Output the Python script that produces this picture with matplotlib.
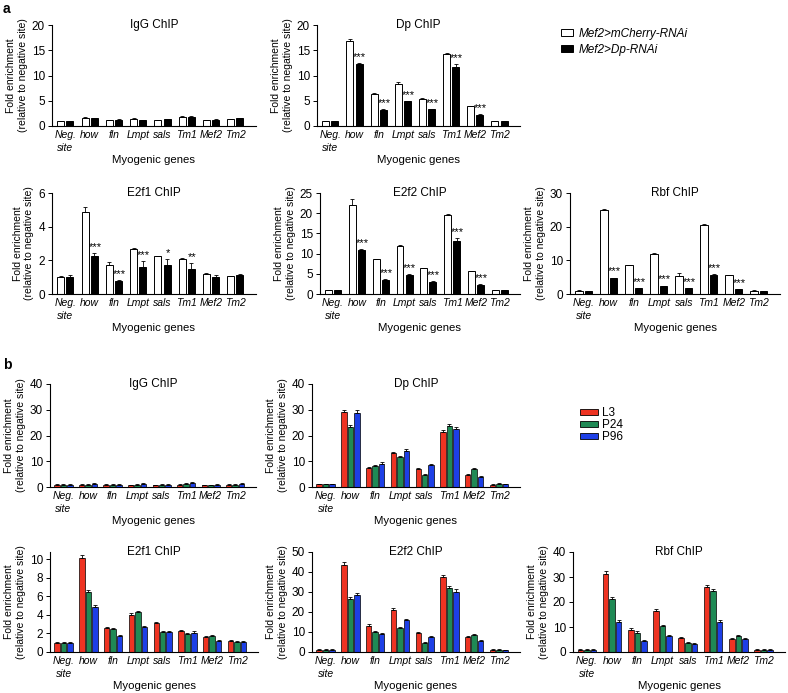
import numpy as np
import matplotlib.pyplot as plt
from matplotlib.patches import Patch

plt.rcParams['font.family'] = ['Liberation Sans', 'DejaVu Sans']
plt.rcParams['font.size'] = 7.5

W, H = 788, 693

genes = ['Neg.\nsite', 'how', 'fln', 'Lmpt', 'sals', 'Tm1', 'Mef2', 'Tm2']

# ---- panel a: Mef2>mCherry-RNAi (white) vs Mef2>Dp-RNAi (black)
a_igg_ctrl = [1.0, 1.6, 1.1, 1.4, 1.2, 1.7, 1.2, 1.3]
a_igg_ctrl_err = [0.05, 0.1, 0.05, 0.15, 0.05, 0.3, 0.05, 0.1]
a_igg_dp = [1.0, 1.5, 1.2, 1.1, 1.3, 1.7, 1.2, 1.5]
a_igg_dp_err = [0.05, 0.1, 0.1, 0.1, 0.05, 0.35, 0.1, 0.1]
a_igg_stars = ['', '', '', '', '', '', '', '']

a_dp_ctrl = [1.0, 16.8, 6.4, 8.4, 5.3, 14.3, 3.9, 0.9]
a_dp_ctrl_err = [0.05, 0.4, 0.2, 0.25, 0.3, 0.1, 0.05, 0.05]
a_dp_dp = [1.0, 12.2, 3.2, 4.9, 3.3, 11.7, 2.2, 0.9]
a_dp_dp_err = [0.05, 0.2, 0.1, 0.05, 0.1, 0.5, 0.1, 0.05]
a_dp_stars = ['', '***', '***', '***', '***', '***', '***', '']

a_e2f1_ctrl = [1.0, 4.9, 1.75, 2.7, 2.25, 2.1, 1.2, 1.05]
a_e2f1_ctrl_err = [0.05, 0.25, 0.15, 0.02, 0.02, 0.05, 0.05, 0.03]
a_e2f1_dp = [1.0, 2.25, 0.8, 1.6, 1.7, 1.5, 1.0, 1.15]
a_e2f1_dp_err = [0.15, 0.2, 0.05, 0.35, 0.35, 0.35, 0.1, 0.03]
a_e2f1_stars = ['', '***', '***', '***', '*', '**', '', '']

a_e2f2_ctrl = [1.0, 22.0, 8.6, 12.0, 6.4, 19.6, 5.6, 1.0]
a_e2f2_ctrl_err = [0.1, 1.5, 0.1, 0.15, 0.1, 0.15, 0.1, 0.05]
a_e2f2_dp = [1.0, 11.0, 3.5, 4.8, 3.0, 13.1, 2.3, 1.0]
a_e2f2_dp_err = [0.05, 0.2, 0.1, 0.2, 0.2, 0.8, 0.1, 0.05]
a_e2f2_stars = ['', '***', '***', '***', '***', '***', '***', '']

a_rbf_ctrl = [1.0, 25.0, 8.5, 12.0, 5.3, 20.5, 5.6, 1.0]
a_rbf_ctrl_err = [0.05, 0.2, 0.1, 0.2, 0.8, 0.2, 0.1, 0.05]
a_rbf_dp = [0.9, 4.7, 1.8, 2.4, 1.7, 5.6, 1.4, 0.8]
a_rbf_dp_err = [0.05, 0.2, 0.1, 0.1, 0.2, 0.2, 0.1, 0.05]
a_rbf_stars = ['', '***', '***', '***', '***', '***', '***', '']

# ---- panel b: L3 / P24 / P96
b_igg_l3 = [0.9, 0.9, 0.8, 0.7, 0.6, 0.9, 0.6, 0.9]
b_igg_p24 = [0.8, 0.9, 0.8, 0.8, 0.8, 1.1, 0.7, 0.8]
b_igg_p96 = [0.8, 1.3, 0.8, 1.1, 0.9, 1.5, 0.9, 1.1]

b_dp_l3 = [1.0, 29.0, 7.5, 13.2, 6.8, 21.5, 4.7, 0.8]
b_dp_p24 = [1.0, 23.3, 8.2, 11.6, 4.8, 23.8, 6.9, 1.2]
b_dp_p96 = [1.0, 28.8, 9.1, 14.0, 8.5, 22.6, 3.8, 1.0]

b_e2f1_l3 = [1.0, 10.2, 2.6, 4.0, 3.15, 2.25, 1.6, 1.2]
b_e2f1_p24 = [1.0, 6.5, 2.5, 4.3, 2.2, 1.9, 1.75, 1.1]
b_e2f1_p96 = [1.0, 4.9, 1.7, 2.65, 2.2, 2.1, 1.2, 1.05]

b_e2f2_l3 = [1.0, 43.5, 13.2, 21.0, 9.7, 37.5, 7.4, 1.0]
b_e2f2_p24 = [1.0, 26.7, 9.9, 12.1, 4.6, 32.0, 8.5, 1.0]
b_e2f2_p96 = [1.0, 28.5, 8.8, 16.0, 7.7, 30.2, 5.5, 0.8]

b_rbf_l3 = [1.0, 31.2, 9.0, 16.5, 5.8, 26.0, 5.3, 0.9]
b_rbf_p24 = [0.9, 21.4, 7.8, 10.4, 3.5, 24.5, 6.5, 1.0]
b_rbf_p96 = [1.0, 12.2, 4.3, 6.5, 3.2, 12.1, 5.4, 0.9]

red, green, blue = '#ee3322', '#1f8a55', '#1d3fe6'

fig = plt.figure(figsize=(W / 100, H / 100), dpi=100)


def make_ax(left, top, right, bottom):
    return fig.add_axes([left / W, 1 - bottom / H, (right - left) / W, (bottom - top) / H])


def style(ax, title, ymax, yticks):
    x = np.arange(len(genes))
    ax.set_xlim(-0.55, 7.85)
    ax.set_ylim(0, ymax)
    ax.set_yticks(yticks)
    ax.set_xticks(x)
    ax.set_xticklabels(genes, style='italic', linespacing=1.3)
    ax.tick_params(axis='x', length=0, pad=3)
    ax.tick_params(axis='y', length=3, width=0.7, pad=2, labelsize=8.5)
    for s in ['top', 'right']:
        ax.spines[s].set_visible(False)
    for s in ['left', 'bottom']:
        ax.spines[s].set_linewidth(0.8)
    ax.set_xlabel('Myogenic genes', fontsize=8.2, labelpad=2)
    ax.set_ylabel('Fold enrichment\n(relative to negative site)', fontsize=7.5, labelpad=3, linespacing=1.15)
    ax.text(0.5, 1.0, title, transform=ax.transAxes, ha='center', va='center', fontsize=8.5)


def panel_a(ax, title, ctrl, ctrl_err, dp, dp_err, stars, ymax, yticks):
    x = np.arange(len(genes))
    w = 0.29
    ekw = dict(elinewidth=0.6, capthick=0.6)
    ax.bar(x - 0.19, ctrl, w, color='white', edgecolor='black', linewidth=0.7,
           yerr=[np.zeros(len(ctrl)), ctrl_err], capsize=1.5, error_kw=ekw)
    ax.bar(x + 0.19, dp, w, color='black', edgecolor='black', linewidth=0.7,
           yerr=[np.zeros(len(dp)), dp_err], capsize=1.5, error_kw=ekw)
    for i, s in enumerate(stars):
        if s:
            ax.text(x[i] + 0.22, dp[i] + dp_err[i] + ymax * 0.01, s, ha='center', va='bottom', fontsize=8)
    style(ax, title, ymax, yticks)


def panel_b(ax, title, l3, p24, p96, ymax, yticks):
    x = np.arange(len(genes))
    w = 0.22
    ekw = dict(elinewidth=0.6, capthick=0.6)
    for off, vals, c in [(-0.26, l3, red), (0.0, p24, green), (0.26, p96, blue)]:
        err = [v * 0.025 + ymax * 0.006 for v in vals]
        ax.bar(x + off, vals, w, color=c, edgecolor='black', linewidth=0.5,
               yerr=[np.zeros(len(vals)), err], capsize=1.2, error_kw=ekw)
    style(ax, title, ymax, yticks)


# panel a
ax = make_ax(52, 25, 256, 126)
panel_a(ax, 'IgG ChIP', a_igg_ctrl, a_igg_ctrl_err, a_igg_dp, a_igg_dp_err, a_igg_stars, 20, [0, 5, 10, 15, 20])
ax = make_ax(317, 25, 520, 126)
panel_a(ax, 'Dp ChIP', a_dp_ctrl, a_dp_ctrl_err, a_dp_dp, a_dp_dp_err, a_dp_stars, 20, [0, 5, 10, 15, 20])
ax = make_ax(52, 193, 256, 294)
panel_a(ax, 'E2f1 ChIP', a_e2f1_ctrl, a_e2f1_ctrl_err, a_e2f1_dp, a_e2f1_dp_err, a_e2f1_stars, 6, [0, 2, 4, 6])
ax = make_ax(320, 193, 520, 294)
panel_a(ax, 'E2f2 ChIP', a_e2f2_ctrl, a_e2f2_ctrl_err, a_e2f2_dp, a_e2f2_dp_err, a_e2f2_stars, 25, [0, 5, 10, 15, 20, 25])
ax = make_ax(570, 193, 780, 294)
panel_a(ax, 'Rbf ChIP', a_rbf_ctrl, a_rbf_ctrl_err, a_rbf_dp, a_rbf_dp_err, a_rbf_stars, 30, [0, 10, 20, 30])

# panel b
ax = make_ax(50, 384, 256, 487)
panel_b(ax, 'IgG ChIP', b_igg_l3, b_igg_p24, b_igg_p96, 40, [0, 10, 20, 30, 40])
ax = make_ax(312, 384, 520, 487)
panel_b(ax, 'Dp ChIP', b_dp_l3, b_dp_p24, b_dp_p96, 40, [0, 10, 20, 30, 40])
ax = make_ax(50, 552, 258, 652)
panel_b(ax, 'E2f1 ChIP', b_e2f1_l3, b_e2f1_p24, b_e2f1_p96, 10.8, [0, 2, 4, 6, 8, 10])
ax = make_ax(312, 552, 520, 652)
panel_b(ax, 'E2f2 ChIP', b_e2f2_l3, b_e2f2_p24, b_e2f2_p96, 50, [0, 10, 20, 30, 40, 50])
ax = make_ax(573, 552, 785, 652)
panel_b(ax, 'Rbf ChIP', b_rbf_l3, b_rbf_p24, b_rbf_p96, 40, [0, 10, 20, 30, 40])

# legends
h_a = [Patch(facecolor='white', edgecolor='black', linewidth=0.7),
       Patch(facecolor='black', edgecolor='black', linewidth=0.7)]
fig.legend(h_a, ['Mef2>mCherry-RNAi', 'Mef2>Dp-RNAi'], loc='upper left',
           bbox_to_anchor=(555 / W, 1 - 22 / H), frameon=False,
           prop={'style': 'italic', 'size': 8.5}, handlelength=1.0, handleheight=0.55,
           handletextpad=0.5, labelspacing=0.35, borderpad=0)
h_b = [Patch(facecolor=c, edgecolor='black', linewidth=0.6) for c in [red, green, blue]]
fig.legend(h_b, ['L3', 'P24', 'P96'], loc='upper left',
           bbox_to_anchor=(574 / W, 1 - 401 / H), frameon=False, fontsize=8.5,
           handlelength=1.5, handleheight=0.45, handletextpad=0.4, labelspacing=0.0, borderpad=0)

fig.text(3 / W, 1 - 9 / H, 'a', fontsize=10, fontweight='bold', va='center')
fig.text(3 / W, 1 - 365 / H, 'b', fontsize=10, fontweight='bold', va='center')

fig.savefig('out.png', dpi=100)
